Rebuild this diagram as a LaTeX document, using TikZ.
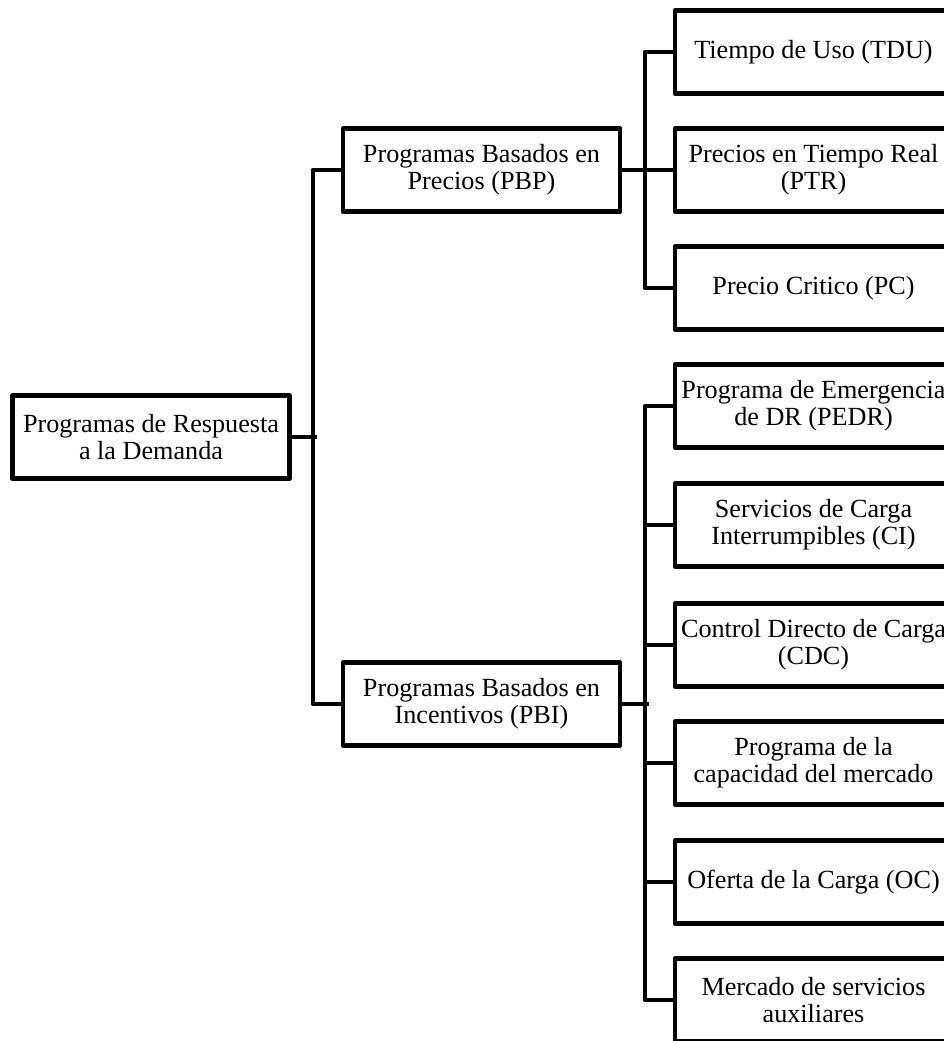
\documentclass[tikz,border=0pt]{standalone}
\usepackage{fontspec}
\setmainfont{Liberation Serif}
\usetikzlibrary{calc}

\tikzset{
	box/.style={draw, line width=.09cm, line join=round, minimum width=5.54cm, minimum height=1.66cm, inner sep=0pt, align=center, font=\fontsize{14.9}{15.2}\selectfont},
	conn/.style={line width=.09cm, line join=round}
}

\begin{document}
\begin{tikzpicture}[x=.02cm, y=-.02cm]
	\path [use as bounding box] (0,0) rectangle (943,1041);
	% levels
	\node[box] (root) at (151,437) {Programas de Respuesta\\a la Demanda};
	\node[box] (pbp) at (481.5,170) {Programas Basados en\\Precios (PBP)};
	\node[box] (pbi) at (481.5,704) {Programas Basados en\\Incentivos (PBI)};
	% precios
	\node[box] (tdu) at (813.5,52) {Tiempo de Uso (TDU)};
	\node[box] (ptr) at (813.5,170) {Precios en Tiempo Real\\(PTR)};
	\node[box] (pc) at (813.5,288) {Precio Critico (PC)};
	% incentivos
	\node[box] (pedr) at (813.5,406) {Programa de Emergencia\\de DR (PEDR)};
	\node[box] (ci) at (813.5,525) {Servicios de Carga\\Interrumpibles (CI)};
	\node[box] (cdc) at (813.5,645) {Control Directo de Carga\\(CDC)};
	\node[box] (cmer) at (813.5,763) {Programa de la\\capacidad del mercado};
	\node[box] (oc) at (813.5,882) {Oferta de la Carga (OC)};
	\node[box] (msa) at (813.5,1000) {Mercado de servicios\\auxiliares};
	% connectors
	\draw[conn] (root.east) -- ++(25,0);
	\draw[conn] (pbp.west) -- ++(-28,0) |- (pbi.west);
	\draw[conn] (tdu.west) -- ++(-28,0) |- (pc.west);
	\draw[conn] (pbp.east) -- (ptr.west);
	\draw[conn] (pedr.west) -- ++(-28,0) |- (msa.west);
	\draw[conn] (pbi.east) -- ++(27,0);
	\foreach \leaf in {ci,cdc,cmer,oc}
		\draw[conn] (\leaf.west) -- ++(-28,0);
\end{tikzpicture}
\end{document}
